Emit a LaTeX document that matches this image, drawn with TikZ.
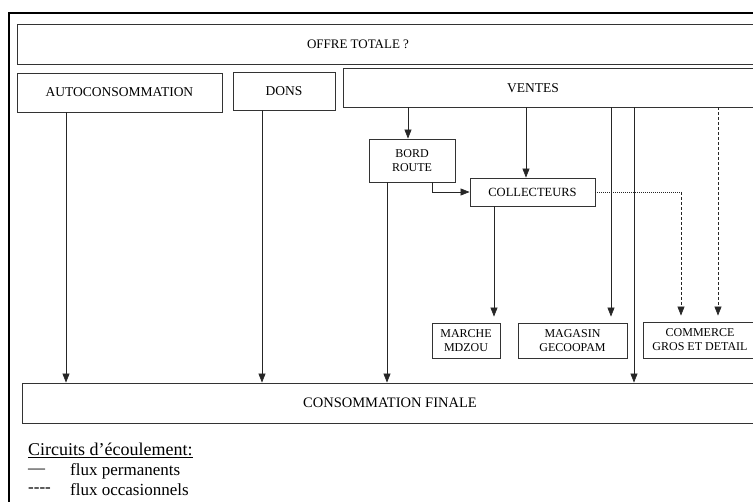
\documentclass[tikz,border=0pt]{standalone}
\usepackage{fontspec}
\setmainfont{Liberation Serif}
\usetikzlibrary{arrows.meta}
\tikzset{
  boite/.style={draw=black!80, line width=0.9pt, rectangle, inner sep=0pt, align=center},
  etiq/.style={align=center, inner sep=1pt},
  flux/.style={draw=black!85, line width=0.7pt, -{Triangle[length=9pt,width=7pt]}},
  occas/.style={flux, dash pattern=on 3pt off 2pt},
  pointille/.style={draw=black!85, line width=0.7pt, dash pattern=on 1pt off 1pt},
}
\begin{document}
\begin{tikzpicture}[x=1pt,y=-1pt]
  \useasboundingbox (0,0) rectangle (753,502);
  % cadre
  \draw[line width=2.5pt] (9,502) -- (9,13) -- (760,13);
  % colonnes
  \foreach \nom/\x in {cA/66,cB/262,cC/387,cD/408,cE/526,cF/494,cG/611,cH/634,cI/681,cJ/718,cK/432}
    {\coordinate (\nom) at (\x,0);}
  % offre
  \node[boite, minimum width=763pt, minimum height=40pt] (offre) at (398.5,44) {};
  \node[etiq, font=\fontsize{13}{15}\selectfont] (offret) at (358,44) {OFFRE TOTALE ?};
  \node[boite, minimum width=205pt, minimum height=39pt, font=\fontsize{13.5}{15}\selectfont] (auto) at (119.5,92.5) {AUTOCONSOMMATION};
  \node[boite, minimum width=102pt, minimum height=38pt, font=\fontsize{13.5}{15}\selectfont] (dons) at (284,91) {DONS};
  \node[boite, minimum width=437pt, minimum height=39pt] (ventes) at (561.5,87.5) {};
  \node[etiq, font=\fontsize{13.5}{15}\selectfont] (ventest) at (533,88) {VENTES};
  % intermediaires
  \node[boite, minimum width=86pt, minimum height=43pt, font=\fontsize{12}{14}\selectfont] (bord) at (412,160.5) {BORD\\ROUTE};
  \node[boite, minimum width=125pt, minimum height=28pt, font=\fontsize{12.5}{14}\selectfont] (coll) at (532.5,192) {COLLECTEURS};
  \node[boite, minimum width=68pt, minimum height=35pt, font=\fontsize{12}{14}\selectfont] (marche) at (466,340.5) {MARCHE\\MDZOU};
  \node[boite, minimum width=109pt, minimum height=35pt, font=\fontsize{12}{14}\selectfont] (magasin) at (572.5,340.5) {MAGASIN\\GECOOPAM};
  \node[boite, minimum width=137pt, minimum height=36pt] (commerce) at (711.5,340) {};
  \node[etiq, font=\fontsize{12}{14}\selectfont] (commercet) at (700,340) {COMMERCE\\GROS ET DETAIL};
  % consommation
  \node[boite, minimum width=758pt, minimum height=40pt] (conso) at (401,403) {};
  \node[etiq, font=\fontsize{14.5}{16}\selectfont] (consot) at (390,403) {CONSOMMATION FINALE};
  % flux permanents
  \draw[flux] (auto.south -| cA) -- (conso.north -| cA);
  \draw[flux] (dons.south -| cB) -- (conso.north -| cB);
  \draw[flux] (ventes.south -| cD) -- (bord.north -| cD);
  \draw[flux] (ventes.south -| cE) -- (coll.north -| cE);
  \draw[flux] (bord.south -| cC) -- (conso.north -| cC);
  \draw[flux] (bord.south -| cK) |- (coll.west);
  \draw[flux, shorten >=6pt] (coll.south -| cF) -- (marche.north -| cF);
  \draw[flux, shorten >=6pt] (ventes.south -| cG) -- (magasin.north -| cG);
  \draw[flux] (ventes.south -| cH) -- (conso.north -| cH);
  % flux occasionnels
  \draw[pointille] (coll.east) -- (coll.east -| cI);
  \draw[occas, shorten >=6pt] (coll.east -| cI) -- (commerce.north -| cI);
  \draw[occas, shorten >=6pt] (ventes.south -| cJ) -- (commerce.north -| cJ);
  % legende
  \node[anchor=west, inner sep=0pt, font=\fontsize{18}{20}\selectfont] (legtitre) at (28,450) {\underline{Circuits d’écoulement:}};
  \node[anchor=west, inner sep=0pt, font=\fontsize{17}{19}\selectfont] (legA) at (28,471) {—};
  \node[anchor=west, inner sep=0pt, font=\fontsize{17}{19}\selectfont] (legAt) at (70,471) {flux permanents};
  \node[anchor=west, inner sep=0pt, font=\fontsize{17}{19}\selectfont] (legB) at (28,490) {-{}-{}-{}-};
  \node[anchor=west, inner sep=0pt, font=\fontsize{17}{19}\selectfont] (legBt) at (70,490) {flux occasionnels};
\end{tikzpicture}
\end{document}
